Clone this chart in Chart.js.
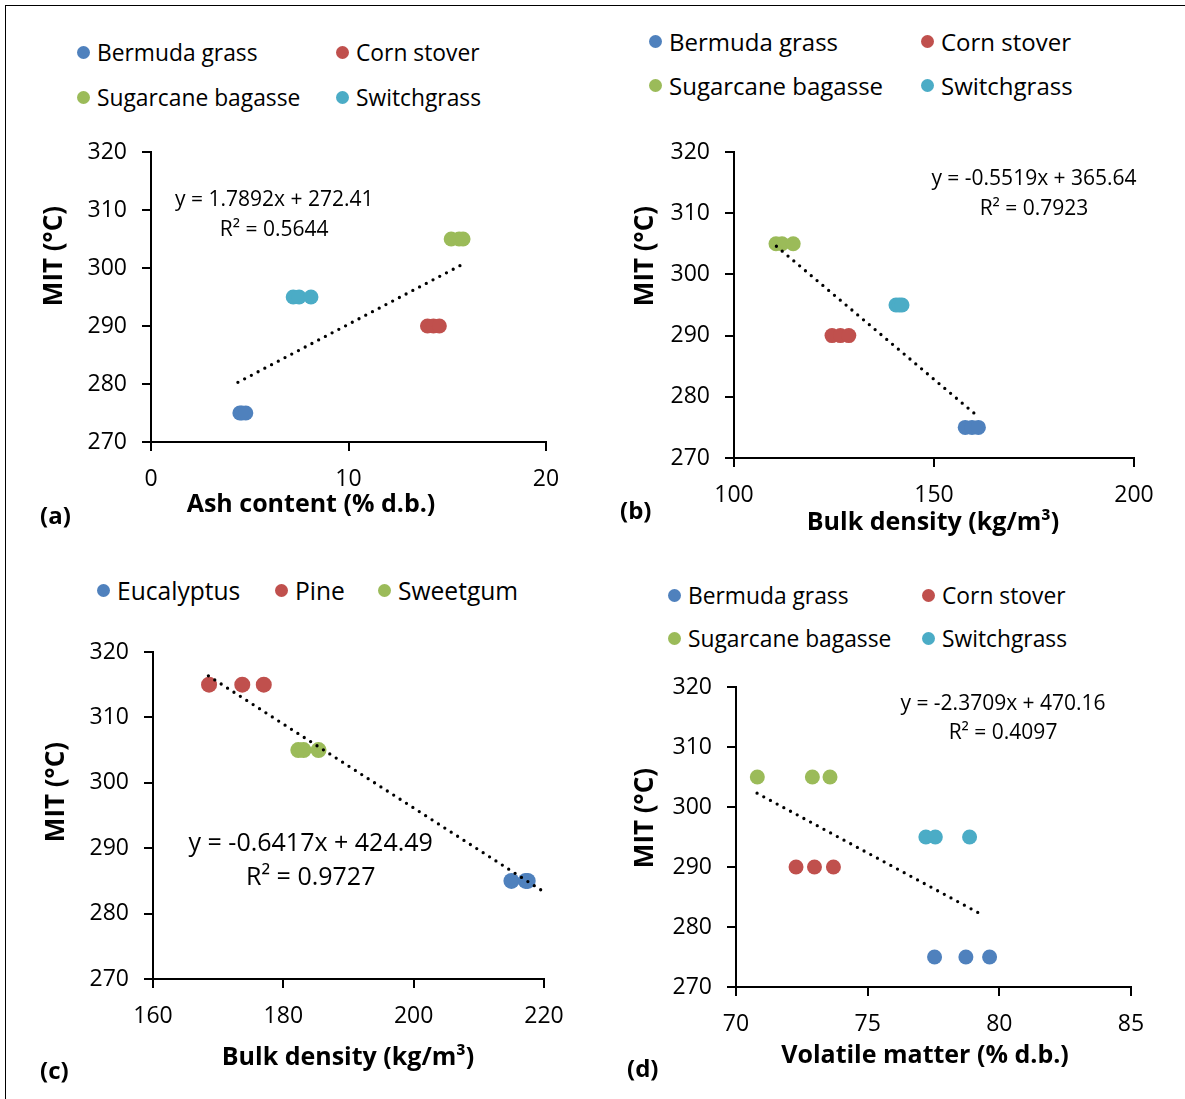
<!DOCTYPE html>
<html lang="en">
<head>
<meta charset="UTF-8">
<title>MIT vs biomass properties</title>
<script src="https://cdn.jsdelivr.net/npm/chart.js@4.4.1/dist/chart.umd.min.js"></script>
<style>
  body { margin: 0; background: #fff; font-family: "Open Sans", sans-serif; color: #000; }
  #frame { position: absolute; left: 5px; top: 5px; width: 1180px; height: 1094px;
           border-top: 1.5px solid #000; border-left: 1.5px solid #000; }
  canvas { position: absolute; }
  .item { position: absolute; display: flex; align-items: center; height: 30px;
          white-space: nowrap; }
  .dot { width: 13px; height: 13px; border-radius: 50%; margin-right: 7px; }
  .tag { position: absolute; font-weight: bold; font-size: 24px; line-height: 30px; }
</style>
</head>
<body>
<div id="frame"></div>
<canvas id="chartA"></canvas>
<canvas id="chartB"></canvas>
<canvas id="chartC"></canvas>
<canvas id="chartD"></canvas>

<script>
  // ---- data ----
  const grasses = ["Bermuda grass", "Corn stover", "Sugarcane bagasse", "Switchgrass"];
  const woods = ["Eucalyptus", "Pine", "Sweetgum"];
  const grassMIT = [275, 290, 305, 295];
  const woodMIT = [285, 315, 305];

  // (a) ash content, % d.b.
  const ashX = [[4.5, 4.6, 4.8], [14.0, 14.3, 14.6], [15.2, 15.6, 15.8], [7.2, 7.5, 8.1]];
  // (b) bulk density of grasses, kg/m3
  const grassDensX = [[157.8, 159.5, 161.1], [124.5, 126.6, 128.7], [110.5, 112.0, 114.8], [140.5, 141.3, 142.0]];
  // (c) bulk density of woods, kg/m3
  const woodDensX = [[215.0, 217.2, 217.5], [168.6, 173.7, 177.0], [182.3, 183.1, 185.4]];
  // (d) volatile matter, % d.b.
  const volX = [[77.54, 78.73, 79.63], [72.28, 72.98, 73.7], [70.81, 72.9, 73.57], [77.21, 77.57, 78.87]];

  // linear trendlines as printed on the panels
  const trendSlope = [1.7892, -0.5519, -0.6417, -2.3709];
  const trendIntercept = [272.41, 365.64, 424.49, 470.16];
  const trendR2 = [0.5644, 0.7923, 0.9727, 0.4097];
  const trendRange = [[4.4, 15.8], [110.6, 160.0], [168.5, 219.7], [70.8, 79.4]];

  const grassColors = ["#4F81BD", "#C0504D", "#9BBB59", "#4BACC6"];
  const woodColors = ["#4F81BD", "#C0504D", "#9BBB59"];

  Chart.defaults.font.family = '"Open Sans", sans-serif';
  Chart.defaults.color = "#000";

  // trendline equation, in data coordinates
  const eqPlugin = {
    id: "eq",
    afterDatasetsDraw(chart, args, o) {
      const { ctx, scales } = chart;
      ctx.save();
      ctx.font = o.size + 'px "Open Sans"';
      ctx.fillStyle = "#000";
      ctx.textAlign = "center";
      ctx.textBaseline = "middle";
      o.lines.forEach((t, i) => {
        ctx.fillText(t, scales.x.getPixelForValue(o.x), scales.y.getPixelForValue(o.y[i]));
      });
      ctx.restore();
    }
  };

  // axis titles: the original ones sit off-centre, so place them by hand
  const titlePlugin = {
    id: "axisTitles",
    afterDraw(chart, args, o) {
      const ctx = chart.ctx;
      ctx.save();
      ctx.fillStyle = "#000";
      ctx.textAlign = "center";
      ctx.textBaseline = "middle";
      ctx.font = 'bold ' + o.xSize + 'px "Open Sans"';
      ctx.fillText(o.xText, o.xAt[0], o.xAt[1]);
      ctx.translate(o.yAt[0], o.yAt[1]);
      ctx.rotate(-Math.PI / 2);
      ctx.font = 'bold ' + o.ySize + 'px "Open Sans"';
      ctx.fillText(o.yText, 0, 0);
      ctx.restore();
    }
  };

  function addLegend(names, colors, rows, cols, size) {
    names.forEach((n, i) => {
      const r = rows.length > 1 ? Math.floor(i / 2) : 0;
      const c = rows.length > 1 ? i % 2 : i;
      const el = document.createElement("div");
      el.className = "item";
      el.style.fontSize = size + "px";
      el.style.left = (cols[c] - 20) + "px";
      el.style.top = (rows[r] - 15) + "px";
      el.innerHTML = '<span class="dot" style="background:' + colors[i] + '"></span>' + n;
      document.body.appendChild(el);
    });
  }

  function addTag(text, left, y) {
    const el = document.createElement("div");
    el.className = "tag";
    el.textContent = text;
    el.style.left = left + "px";
    el.style.top = (y - 15) + "px";
    document.body.appendChild(el);
  }

  function fmt(v, d) { return v.toFixed(d); }

  // g: page geometry of the plot area and titles
  function makePanel(id, k, names, colors, xs, ys, g, xAxis) {
    const padTop = 32, padRight = 42;
    const cx = g.cx, cy = g.T - padTop;
    const cw = g.R - cx + padRight;
    const ch = Math.round(g.xTitle[1] + 22 - cy);
    const canvas = document.getElementById(id);
    canvas.style.left = cx + "px";
    canvas.style.top = cy + "px";
    canvas.width = cw;
    canvas.height = ch;

    const datasets = names.map((n, i) => ({
      label: n,
      data: xs[i].map(v => ({ x: v, y: ys[i] })),
      backgroundColor: colors[i],
      borderWidth: 0,
      pointRadius: g.dot,
      pointHoverRadius: g.dot
    }));
    const r = trendRange[k];
    datasets.push({
      type: "line",
      label: "Linear",
      data: r.map(v => ({ x: v, y: trendSlope[k] * v + trendIntercept[k] })),
      borderColor: "#000",
      borderWidth: 3.3,
      borderDash: [0, 7.6],
      borderCapStyle: "round",
      pointRadius: 0,
      fill: false,
      order: -1
    });

    const sign = trendIntercept[k] < 0 ? " - " : " + ";
    const eqLines = [
      "y = " + fmt(trendSlope[k], 4) + "x" + sign + fmt(Math.abs(trendIntercept[k]), 2),
      "R\u00b2 = " + fmt(trendR2[k], 4)
    ];

    const axisGrid = { drawOnChartArea: false, drawTicks: true, tickLength: 9, color: "#000", lineWidth: 2 };
    const axisBorder = { color: "#000", width: 2 };

    new Chart(canvas, {
      type: "scatter",
      data: { datasets },
      options: {
        responsive: false,
        animation: false,
        layout: { padding: { left: 0, top: padTop, right: padRight, bottom: 0 } },
        plugins: {
          legend: { display: false },
          tooltip: { enabled: false },
          eq: { lines: eqLines, x: g.eqX, y: g.eqY, size: g.eqSize },
          axisTitles: {
            xText: xAxis.title, xAt: [g.xTitle[0] - cx, g.xTitle[1] - cy], xSize: 25,
            yText: "MIT (\u00b0C)", yAt: [g.yTitle[0] - cx, g.yTitle[1] - cy], ySize: 26
          }
        },
        scales: {
          x: {
            type: "linear", min: xAxis.min, max: xAxis.max,
            ticks: { stepSize: xAxis.step, padding: 15, font: { size: 23 } },
            grid: axisGrid, border: axisBorder,
            afterFit: s => { s.height = cy + ch - g.B; }
          },
          y: {
            type: "linear", min: 270, max: 320,
            ticks: { stepSize: 10, padding: 15, font: { size: 23 } },
            grid: axisGrid, border: axisBorder,
            afterFit: s => { s.width = g.L - cx; }
          }
        }
      },
      plugins: [eqPlugin, titlePlugin]
    });
  }

  makePanel("chartA", 0, grasses, grassColors, ashX, grassMIT,
    { cx: 20, L: 151, R: 546, T: 152, B: 442, xTitle: [311, 505], yTitle: [55, 256],
      eqX: 6.24, eqY: [311.75, 306.55], eqSize: 21, dot: 7.5 },
    { min: 0, max: 20, step: 10, title: "Ash content (% d.b.)" });

  makePanel("chartB", 1, grasses, grassColors, grassDensX, grassMIT,
    { cx: 600, L: 734, R: 1134, T: 152, B: 458, xTitle: [933, 523], yTitle: [646, 256],
      eqX: 175, eqY: [315.55, 310.65], eqSize: 21, dot: 7.5 },
    { min: 100, max: 200, step: 50, title: "Bulk density (kg/m\u00b3)" });

  makePanel("chartC", 2, woods, woodColors, woodDensX, woodMIT,
    { cx: 20, L: 153, R: 544, T: 652, B: 979, xTitle: [348, 1058], yTitle: [57, 792],
      eqX: 184.2, eqY: [290.6, 285.4], eqSize: 25, dot: 8 },
    { min: 160, max: 220, step: 20, title: "Bulk density (kg/m\u00b3)" });

  makePanel("chartD", 3, grasses, grassColors, volX, grassMIT,
    { cx: 600, L: 736, R: 1131, T: 687, B: 987, xTitle: [925, 1056], yTitle: [646, 818],
      eqX: 80.14, eqY: [317.2, 312.4], eqSize: 21, dot: 7.5 },
    { min: 70, max: 85, step: 5, title: "Volatile matter (% d.b.)" });

  addLegend(grasses, grassColors, [52, 97], [97, 356], 22.8);
  addLegend(grasses, grassColors, [41, 85], [669, 941], 24);
  addLegend(woods, woodColors, [590], [117, 295, 398], 24.6);
  addLegend(grasses, grassColors, [595, 638], [688, 942], 22.8);

  addTag("(a)", 40, 515);
  addTag("(b)", 620, 510);
  addTag("(c)", 40, 1070);
  addTag("(d)", 627, 1068);
</script>
</body>
</html>
